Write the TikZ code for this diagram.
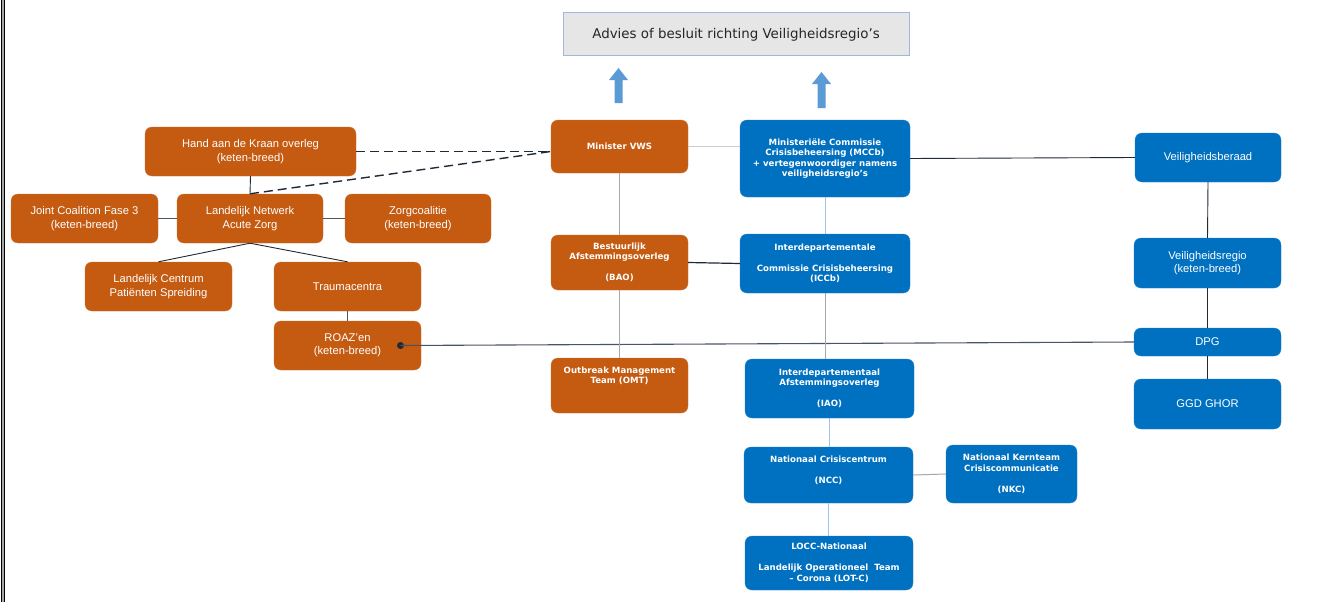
\documentclass[tikz,border=0pt]{standalone}
\usepackage{fontspec}
\setmainfont{Liberation Sans}
\newfontfamily\vfont{DejaVu Sans}
\definecolor{cor}{HTML}{C55A11}
\definecolor{cbl}{HTML}{0070C0}
\definecolor{carrow}{HTML}{5B9BD5}
\definecolor{ctitle}{HTML}{E7E6E6}
\definecolor{ctitleb}{HTML}{9DB9E3}
\definecolor{cdark}{HTML}{1F2A36}
\definecolor{cgrey}{HTML}{A9A9A9}
\definecolor{clb}{HTML}{9DC3E6}
\definecolor{croaz}{HTML}{4A5562}
\begin{document}
\begin{tikzpicture}[x=1pt,y=-1pt,
  box/.style={rounded corners=7pt, inner sep=0pt, align=center, text=white},
  sz/.style 2 args={minimum width=#1pt, minimum height=#2pt},
  obox/.style={box, fill=cor, draw=cor!85!white},
  bbox/.style={box, fill=cbl, draw=cbl!85!white},
  arial/.style={font=\fontsize{11.2}{13.4}\selectfont},
  verdb/.style={font=\vfont\bfseries\fontsize{8.6}{10.5}\selectfont},
  dk/.style={draw=cdark, line width=0.9pt},
  gr/.style={draw=cgrey, line width=1pt},
  lb/.style={draw=clb, line width=1pt},
  dsh/.style={draw=cdark, line width=1.4pt, dash pattern=on 9pt off 5pt},
  rl/.style={draw=croaz, line width=1.1pt},
  dotnode/.style={circle, fill=cdark, inner sep=0pt, minimum size=7pt}
]
\useasboundingbox (0,0) rectangle (1341,602);
\fill[white] (0,0) rectangle (1341,602);
% page border on the left
\fill[gray!70] (0.6,0) rectangle (5.2,602);
\draw[black, line width=1.2pt] (1.2,0) -- (1.2,602);
\draw[black, line width=1.2pt] (4.6,0) -- (4.6,602);

% title
\node[draw=ctitleb, fill=ctitle, line width=1pt, sz={346}{43}, inner sep=0pt,
  text=black!85, font=\vfont\fontsize{13.4}{16}\selectfont] (title) at (736,34.5)
  {\raisebox{1.5pt}{Advies of besluit richting Veiligheidsregio’s}};

% up arrows
\fill[carrow] (614.5,103) -- (614.5,80) -- (609,80) -- (618.5,68) -- (628,80) -- (622.5,80) -- (622.5,103) -- cycle;
\fill[carrow] (817.5,108) -- (817.5,84) -- (812,84) -- (821.5,72) -- (831,84) -- (825.5,84) -- (825.5,108) -- cycle;

% orange (left) tree
\node[obox, arial, sz={211}{49}] (hand) at (250.5,151.5) {Hand aan de Kraan overleg\\(keten-breed)};
\node[obox, arial, sz={147}{49}] (joint) at (84.5,218.5) {Joint Coalition Fase 3\\(keten-breed)};
\node[obox, arial, sz={146}{49}] (ln) at (250,218.5) {Landelijk Netwerk\\Acute Zorg};
\node[obox, arial, sz={146}{49}] (zorg) at (418,218.5) {Zorgcoalitie\\(keten-breed)};
\node[obox, arial, sz={147}{49}] (lc) at (158.5,286.5) {Landelijk Centrum\\Patiënten Spreiding};
\node[obox, arial, sz={147}{49}] (trauma) at (347.5,286.5) {Traumacentra};
\node[obox, arial, sz={147}{49}] (roaz) at (347.5,345.5) {ROAZ’en\\(keten-breed)};

% central column
\node[obox, verdb, sz={137}{53}] (min) at (619.5,146.5) {Minister VWS};
\node[obox, verdb, sz={137}{55}] (bao) at (619.5,262.5) {Bestuurlijk\\Afstemmingsoverleg\\[10.5pt](BAO)};
\node[obox, verdb, sz={137}{55}] (omt) at (619.5,385.5) {Outbreak Management\\Team (OMT)\\[10.5pt]\mbox{}};

\node[bbox, verdb, sz={170}{77}] (mccb) at (825,158.5) {Ministeriële Commissie\\Crisisbeheersing (MCCb)\\+ vertegenwoordiger namens\\veiligheidsregio’s};
\node[bbox, verdb, sz={170}{59}] (iccb) at (825,263.5) {Interdepartementale\\[10.5pt]Commissie Crisisbeheersing\\(ICCb)};
\node[bbox, verdb, sz={169}{59}] (iao) at (829.5,388.5) {Interdepartementaal\\Afstemmingsoverleg\\[10.5pt](IAO)};
\node[bbox, verdb, sz={169}{56}] (ncc) at (828.5,475) {Nationaal Crisiscentrum\\[10.5pt](NCC)\\\mbox{}};
\node[bbox, verdb, sz={131}{58}] (nkc) at (1011.5,474) {Nationaal Kernteam\\Crisiscommunicatie\\[10.5pt](NKC)};
\node[bbox, verdb, sz={168}{54}] (locc) at (829,563) {LOCC-Nationaal\\[10.5pt]Landelijk Operationeel\ \ Team\\– Corona (LOT-C)};

% right column
\node[bbox, arial, sz={146}{49}] (vb) at (1208,157.5) {Veiligheidsberaad};
\node[bbox, arial, sz={147}{50}] (vr) at (1207.5,263) {Veiligheidsregio\\(keten-breed)};
\node[bbox, arial, sz={147}{28}] (dpg) at (1207.5,342) {DPG};
\node[bbox, arial, sz={147}{50}] (ggd) at (1207.5,404) {GGD GHOR};

% connectors left
\draw[dk] (hand.south) -- (ln.north);
\coordinate (minin) at (hand.east -| min.west);
\draw[dsh] (hand.east) -- (minin);
\draw[dsh] (ln.north) -- (minin);
\draw[gr, draw=croaz] (joint.east) -- (ln.west);
\draw[gr, draw=croaz] (ln.east) -- (zorg.west);
\draw[dk] (ln.south) -- (lc.north);
\draw[dk] (ln.south) -- (trauma.north);
\draw[gr, draw=croaz] (trauma.south) -- (roaz.north);
\node[dotnode] (rdot) at (400.5,345.5) {};
\draw[rl] (rdot.center) -- (dpg.west);

% connectors centre
\draw[gr, draw=black!20] (min.east) -- (min.east -| mccb.west);
\draw[dk] (mccb.east) -- (vb.west);
\draw[gr] (min.south) -- (bao.north);
\draw[dk, line width=1.2pt] (bao.east) -- (iccb.west);
\draw[gr] (bao.south) -- (omt.north);
\draw[lb] (mccb.south) -- (iccb.north);
\draw[gr] (iccb.south) -- (iccb.south |- iao.north);
\draw[lb] (iao.south) -- (iao.south |- ncc.north);
\draw[gr] (ncc.east) -- (nkc.west);
\draw[lb] (ncc.south) -- (ncc.south |- locc.north);

% connectors right
\draw[dk] (vb.south) -- (vr.north);
\draw[dk] (vr.south) -- (dpg.north);
\draw[dk] (dpg.south) -- (ggd.north);
\end{tikzpicture}
\end{document}
